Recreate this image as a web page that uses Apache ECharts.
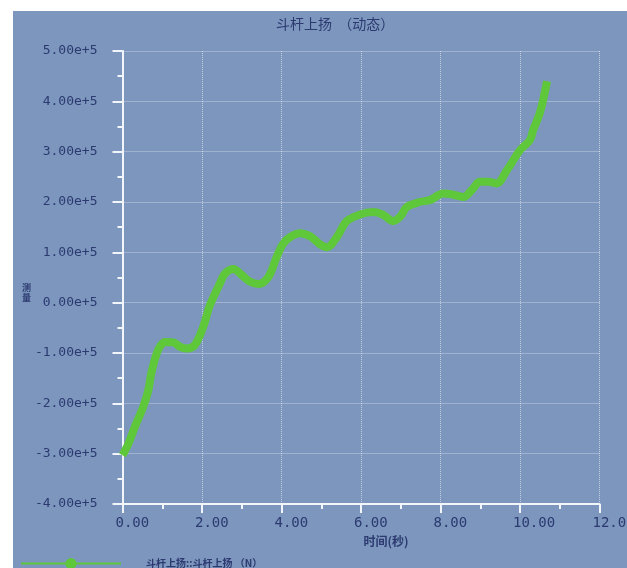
<!DOCTYPE html>
<html>
<head>
<meta charset="utf-8">
<script src="https://cdn.jsdelivr.net/npm/echarts@6/dist/echarts.min.js"></script>
<style>
html,body{margin:0;padding:0;background:#ffffff;}
#chart{width:627px;height:568px;}
</style>
</head>
<body>
<div id="chart"></div>
<script>
// Data
const titleText = '斗杆上扬  （动态）';
const xAxisName = '时间(秒)';
const yAxisName = '测\n量';
const seriesName = '斗杆上扬::斗杆上扬 （N）';
const timeValues = [0.00,0.15,0.31,0.52,0.65,0.73,0.86,0.97,1.07,1.28,1.45,1.61,1.82,2.03,2.20,2.45,2.58,2.79,3.00,3.20,3.42,3.67,3.88,4.05,4.25,4.47,4.72,4.95,5.14,5.39,5.64,5.97,6.31,6.55,6.81,7.00,7.15,7.48,7.74,8.07,8.30,8.57,8.80,8.99,9.20,9.41,9.67,10.00,10.25,10.33,10.50,10.68];
const forceValues = [-303000,-280000,-247000,-207000,-174000,-138000,-101000,-84000,-78000,-79000,-88000,-91000,-84000,-48000,-5000,38000,58000,67000,55000,42000,37000,51000,91000,118000,132000,138000,132000,117000,110000,130000,162000,175000,180000,175000,162000,172000,190000,200000,204000,217000,215000,210000,225000,240000,240000,237000,263000,303000,323000,343000,377000,440000];
const yTickMin = -400000, yTickMax = 500000, yTickStep = 100000;
const xTickMin = 0, xTickMax = 12, xTickStep = 2;

const navy = '#2c3a70';
const chart = echarts.init(document.getElementById('chart'));
chart.setOption({
  animation: false,
  backgroundColor: 'transparent',
  graphic: [
    {type:'rect', z:-10, silent:true, shape:{x:13,y:11,width:614,height:557}, style:{fill:'#7c96be'}},
    {type:'text', left:22, top:283, style:{text:yAxisName, fill:navy, font:'bold 9px "Noto Sans CJK SC"', lineHeight:10}}
  ],
  title: {
    text: titleText, left: 271, top: 12,
    textStyle: {color: navy, fontSize: 14, fontWeight: 'normal', fontFamily: '"Noto Sans CJK SC"'}
  },
  legend: {
    left: 15, top: 553, itemWidth: 100, itemHeight: 14,
    data: [seriesName],
    textStyle: {color: navy, fontSize: 10, fontWeight: 'bold', fontFamily: '"Noto Sans CJK SC"', padding: [0,0,0,20]}
  },
  grid: {left: 122.5, right: 27.5, top: 51, bottom: 64, containLabel: false, outerBoundsMode: 'none'},
  xAxis: {
    type: 'value', min: xTickMin, max: xTickMax, interval: xTickStep,
    name: xAxisName, nameLocation: 'middle', nameGap: 31,
    nameTextStyle: {color: navy, fontSize: 12, fontWeight: 'bold', fontFamily: '"Noto Sans CJK SC"', padding: [0,0,0,50]},
    axisLine: {show: true, onZero: false, lineStyle: {color: '#f2f5fa', width: 2}},
    axisTick: {show: true, inside: false, length: 9, lineStyle: {color: '#f2f5fa', width: 2}},
    minorTick: {show: true, splitNumber: 2, length: 5, lineStyle: {color: '#f2f5fa', width: 2}},
    axisLabel: {color: navy, fontSize: 14, fontFamily: '"DejaVu Sans Mono"', margin: 12, align: 'left', padding: [0,0,0,-7],
      formatter: v => v.toFixed(2), showMaxLabel: true},
    splitLine: {show: true, lineStyle: {color: 'rgba(255,255,255,0.55)', type: 'dotted', width: 1}}
  },
  yAxis: {
    type: 'value', min: yTickMin, max: yTickMax, interval: yTickStep,
    axisLine: {show: true, onZero: false, lineStyle: {color: '#f2f5fa', width: 2}},
    axisTick: {show: true, inside: false, length: 10, lineStyle: {color: '#f2f5fa', width: 2}},
    minorTick: {show: true, splitNumber: 2, length: 5, lineStyle: {color: '#f2f5fa', width: 2}},
    axisLabel: {color: navy, fontSize: 13, fontFamily: '"DejaVu Sans Mono"', margin: 25,
      formatter: v => (v / 100000).toFixed(2) + 'e+5'},
    splitLine: {show: true, lineStyle: {color: 'rgba(255,255,255,0.55)', type: 'dotted', width: 1}}
  },
  series: [{
    name: seriesName, type: 'line', smooth: 0.35, showSymbol: false, symbol: 'circle', symbolSize: 6,
    lineStyle: {color: '#5fc83a', width: 8},
    itemStyle: {color: '#5fc83a'},
    data: timeValues.map((t, i) => [t, forceValues[i]])
  }]
});
</script>
</body>
</html>
